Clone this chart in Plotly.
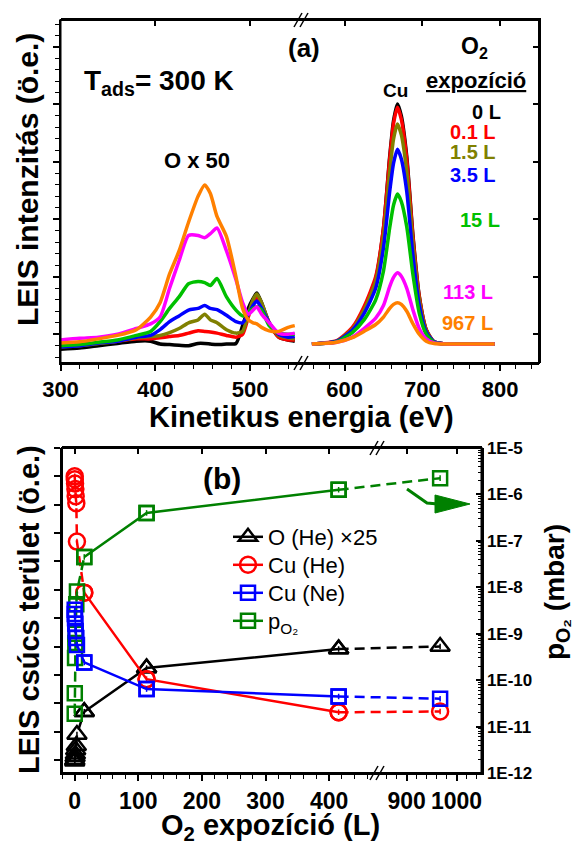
import plotly.graph_objects as go

# ---------------- (a) LEIS spectra ----------------
E_O = [300, 320, 340, 360, 380, 395, 405, 415, 425, 435, 445, 452, 458, 465, 475, 485, 492, 498, 503, 507, 512, 520, 530, 540, 547]
E_CU = [558, 590, 610, 625, 640, 650, 658, 663, 668, 673, 680, 688, 696, 705, 715, 730, 793]

LABELS_A = ["0 L", "0.1 L", "1.5 L", "3.5 L", "15 L", "113 L", "967 L"]
COLORS_A = ["#000000", "#ff0000", "#808000", "#0000ff", "#00c000", "#ff00ff", "#ff8000"]

O_0L = [-0.26, -0.24, -0.2, -0.16, -0.12, -0.12, -0.17, -0.18, -0.19, -0.2, -0.16, -0.16, -0.17, -0.18, -0.17, -0.16, 0.15, 0.45, 0.62, 0.72, 0.55, 0.2, -0.05, -0.1, -0.12]
O_0P1L = [-0.2, -0.18, -0.15, -0.12, -0.08, -0.08, -0.06, -0.04, -0.02, 0.02, 0.06, 0.05, 0.04, 0.02, -0.02, -0.05, 0.0, 0.3, 0.55, 0.65, 0.5, 0.2, -0.05, -0.1, -0.1]
O_1P5L = [-0.22, -0.2, -0.16, -0.12, -0.06, -0.04, -0.02, 0.03, 0.1, 0.2, 0.25, 0.35, 0.25, 0.2, 0.08, 0.02, 0.05, 0.35, 0.6, 0.7, 0.55, 0.2, -0.02, -0.06, -0.08]
O_3P5L = [-0.22, -0.2, -0.15, -0.12, -0.05, -0.02, 0.08, 0.22, 0.32, 0.42, 0.45, 0.5, 0.45, 0.43, 0.33, 0.22, 0.2, 0.35, 0.5, 0.58, 0.45, 0.2, 0.0, -0.05, -0.04]
O_15L = [-0.2, -0.18, -0.14, -0.1, -0.02, 0.05, 0.22, 0.45, 0.65, 0.88, 0.92, 0.9, 0.85, 0.97, 0.65, 0.42, 0.32, 0.38, 0.45, 0.48, 0.42, 0.15, 0.02, 0.0, 0.0]
O_113L = [-0.1, -0.07, -0.05, 0.0, 0.1, 0.18, 0.3, 0.8, 1.28, 1.72, 1.72, 1.68, 1.75, 1.85, 1.45, 0.95, 0.55, 0.35, 0.42, 0.48, 0.35, 0.2, 0.02, 0.0, 0.02]
O_967L = [-0.15, -0.13, -0.08, -0.02, 0.08, 0.3, 0.55, 1.05, 1.45, 1.95, 2.4, 2.6, 2.45, 2.05, 1.7, 1.0, 0.45, 0.25, 0.2, 0.18, 0.12, 0.06, 0.05, 0.12, 0.15]

CU_0L = [-0.17, -0.13, 0.08, 0.42, 0.96, 1.84, 3.09, 3.72, 4.01, 3.8, 3.09, 1.71, 0.67, 0.08, -0.13, -0.17, -0.17]
CU_0P1L = [-0.17, -0.11, 0.12, 0.48, 1.0, 1.85, 3.05, 3.67, 3.95, 3.74, 3.04, 1.68, 0.66, 0.08, -0.13, -0.17, -0.17]
CU_1P5L = [-0.17, -0.12, 0.09, 0.42, 0.92, 1.7, 2.82, 3.4, 3.66, 3.47, 2.82, 1.56, 0.6, 0.06, -0.13, -0.17, -0.17]
CU_3P5L = [-0.17, -0.12, 0.07, 0.36, 0.8, 1.5, 2.48, 2.98, 3.22, 3.05, 2.48, 1.36, 0.51, 0.04, -0.13, -0.17, -0.17]
CU_15L = [-0.17, -0.13, 0.03, 0.25, 0.6, 1.1, 1.85, 2.25, 2.44, 2.31, 1.87, 1.03, 0.37, 0.0, -0.14, -0.17, -0.17]
CU_113L = [-0.17, -0.14, -0.05, 0.1, 0.28, 0.5, 0.83, 0.99, 1.07, 1.01, 0.8, 0.42, 0.1, -0.08, -0.15, -0.17, -0.17]
CU_967L = [-0.17, -0.14, -0.06, 0.05, 0.17, 0.3, 0.45, 0.52, 0.55, 0.52, 0.4, 0.18, 0.0, -0.12, -0.16, -0.17, -0.17]

O_SERIES = [O_0L, O_0P1L, O_1P5L, O_3P5L, O_15L, O_113L, O_967L]
CU_SERIES = [CU_0L, CU_0P1L, CU_1P5L, CU_3P5L, CU_15L, CU_113L, CU_967L]

TICKS_A = [300, 400, 500, 600, 700, 800]

# ---------------- (b) peak areas vs exposure ----------------
EXPO = [0, 0.1, 0.5, 1, 1.5, 2.5, 3.5, 15, 113, 415, 967]
O_HE = [-0.05, 0.0, 0.1, 0.2, 0.35, 0.5, 0.9, 1.7, 3.24, 3.91, 4.0]
CU_HE = [10.0, 9.9, 9.75, 9.55, 9.3, 9.05, 7.7, 5.9, 2.85, 1.68, 1.71]
CU_NE = [5.3, 5.15, 5.0, 4.8, 4.55, 4.3, 4.05, 3.44, 2.5, 2.24, 2.16]
P_O2 = [1.9e-11, 5.2e-11, 3e-10, 6.3e-10, 1e-9, 4.3e-9, 8.1e-9, 4.5e-8, 4e-7, 1.26e-6, 2.24e-6]

TICKS_B = [0, 100, 200, 300, 400, 900, 1000]
P_TICKS = [1e-12, 1e-11, 1e-10, 1e-9, 1e-8, 1e-7, 1e-6, 1e-5]
P_TICKTEXT = ["1E-12", "1E-11", "1E-10", "1E-9", "1E-8", "1E-7", "1E-6", "1E-5"]

# ---------------- layout helpers ----------------
W, H = 581, 846
FONT = "Liberation Sans, Arial, sans-serif"


def pxx(x):
    return x / W


def pyy(y):
    return 1 - y / H


# broken axis (a): 300-550 | 550-850 (compressed)
GAP_A, R_A = 8.5, 0.82


def brk_a(e):
    return e if e <= 550 else 550 + GAP_A + (e - 550) * R_A


# broken axis (b): -20-475 | 840-1050 (compressed)
R_B = 0.784


def brk_b(x):
    return x if x <= 475 else 475 + (x - 840) * R_B


XR_A = [300, brk_a(850)]
XR_B = [-20, brk_b(1050)]
YR_A = [-0.5, 5.47]
YR_B = [-0.46, 11.0]

fig = go.Figure()

# spectra: O region on (x, y) [bottom/left axes]; Cu region on (x3, y3) [top/right frame axes, same scales]
for lab, col, oy, cy in zip(LABELS_A, COLORS_A, O_SERIES, CU_SERIES):
    fig.add_trace(go.Scatter(x=E_O, y=oy, mode="lines",
                             line=dict(color=col, width=3.5, shape="spline", smoothing=0.6),
                             xaxis="x", yaxis="y", showlegend=False, hoverinfo="skip"))
for lab, col, oy, cy in zip(LABELS_A, COLORS_A, O_SERIES, CU_SERIES):
    fig.add_trace(go.Scatter(x=[brk_a(e) for e in E_CU], y=cy, mode="lines",
                             line=dict(color=col, width=3.5, shape="spline", smoothing=0.6),
                             xaxis="x3", yaxis="y3", showlegend=False, hoverinfo="skip"))

# panel (b) series  (Cu(Ne) lives on the twin subplot x4/y5 that carries the top frame axis)
SERIES_B = [
    ("O (He) ×25", O_HE, "#000000", "triangle-up-open", 17, "x2", "y2", "legend"),
    ("Cu (He)", CU_HE, "#ff0000", "circle-open", 16, "x2", "y2", "legend2"),
    ("Cu (Ne)", CU_NE, "#0000ff", "square-open", 14, "x4", "y5", "legend3"),
    ("p<sub>O₂</sub>", P_O2, "#008000", "square-open", 14, "x2", "y4", "legend4"),
]
XB = [brk_b(v) for v in EXPO]
for name, vals, col, sym, size, xax, yax, lg in SERIES_B:
    xd = XB[0:8] + [None] + XB[9:11]
    yd = vals[0:8] + [None] + vals[9:11]
    fig.add_trace(go.Scatter(x=xd, y=yd, mode="lines", line=dict(color=col, width=2.5, dash="10px,6px"),
                             xaxis=xax, yaxis=yax, showlegend=False, hoverinfo="skip"))
    fig.add_trace(go.Scatter(x=XB, y=vals, mode="markers",
                             marker=dict(symbol=sym, size=size, color=col, line=dict(width=2.5, color=col)),
                             xaxis=xax, yaxis=yax, showlegend=False, hoverinfo="skip"))
    fig.add_trace(go.Scatter(x=XB, y=vals, mode="markers",
                             marker=dict(symbol="line-ns", size=4, color=col, line=dict(width=1.5, color=col)),
                             xaxis=xax, yaxis=yax, showlegend=False, hoverinfo="skip"))
    fig.add_trace(go.Scatter(x=XB[7:10], y=vals[7:10], mode="lines+markers", name=name,
                             line=dict(color=col, width=2.5),
                             marker=dict(symbol=sym, size=size, color=col, line=dict(width=2.5, color=col)),
                             xaxis=xax, yaxis=yax, showlegend=True, legend=lg, hoverinfo="skip"))

minor_a = [brk_a(v) for v in list(range(320, 550, 20)) + list(range(560, 850, 20)) if v % 100 != 0]
minor_b = [brk_b(v) for v in list(range(-20, 476, 20)) + list(range(860, 1050, 20)) if v % 100 != 0]

axis_common = dict(showline=True, linecolor="black", linewidth=2, showgrid=False, zeroline=False,
                   tickcolor="black", tickwidth=1.5)

tickfont_a = dict(family=FONT, size=22, color="black", weight="bold")
tickfont_b = dict(family=FONT, size=23, color="black", weight="bold")

DOM_XA = [pxx(60.5), pxx(539)]
DOM_YA = [pyy(363), pyy(20)]
DOM_XB = [pxx(62), pxx(481.5)]
DOM_YB = [pyy(773), pyy(448)]


def minor_x(vals):
    return dict(tickmode="array", tickvals=vals, ticks="outside", ticklen=3.5, tickcolor="black", tickwidth=1.2)


legend_common = dict(xanchor="left", yanchor="middle", bgcolor="rgba(0,0,0,0)",
                     font=dict(family=FONT, size=22, color="black"))

fig.update_layout(
    width=W, height=H, margin=dict(l=0, r=0, t=0, b=0, pad=0, autoexpand=False),
    paper_bgcolor="white", plot_bgcolor="rgba(0,0,0,0)",
    font=dict(family=FONT, color="black"),
    # panel (a): bottom / left
    xaxis=dict(domain=DOM_XA, anchor="y", range=XR_A, ticks="outside", ticklen=6,
               tickmode="array", tickvals=[brk_a(t) for t in TICKS_A], ticktext=[str(t) for t in TICKS_A],
               tickfont=tickfont_a, minor=minor_x(minor_a), **axis_common),
    yaxis=dict(domain=DOM_YA, anchor="x", range=YR_A, ticks="outside", ticklen=6,
               dtick=1, tick0=0, showticklabels=False,
               minor=dict(dtick=0.2, tick0=0, ticks="outside", ticklen=3.5, tickcolor="black", tickwidth=1.2),
               **axis_common),
    # panel (a): top / right (inward ticks)
    xaxis3=dict(domain=DOM_XA, anchor="y3", side="top", range=XR_A, ticks="inside", ticklen=6,
                tickmode="array", tickvals=[brk_a(t) for t in TICKS_A], showticklabels=False, **axis_common),
    yaxis3=dict(domain=DOM_YA, anchor="x3", side="right", range=YR_A, ticks="inside", ticklen=6,
                dtick=1, tick0=0, showticklabels=False, **axis_common),
    # panel (b): bottom / left
    xaxis2=dict(domain=DOM_XB, anchor="y2", range=XR_B, ticks="outside", ticklen=6,
                tickmode="array", tickvals=[brk_b(t) for t in TICKS_B], ticktext=[str(t) for t in TICKS_B],
                tickfont=tickfont_b, minor=minor_x(minor_b), **axis_common),
    yaxis2=dict(domain=DOM_YB, anchor="x2", range=YR_B, ticks="outside", ticklen=6,
                dtick=1, tick0=0, showticklabels=False, **axis_common),
    # panel (b): right log axis for p(O2)
    yaxis4=dict(overlaying="y2", anchor="x2", side="right", type="log", range=[-12, -5], ticks="inside",
                ticklen=6, tickmode="array", tickvals=P_TICKS, ticktext=P_TICKTEXT,
                tickfont=dict(family=FONT, size=17, color="black", weight="bold"),
                minor=dict(ticks="inside", ticklen=3.5, dtick="D1", tickcolor="black", tickwidth=1.0),
                **axis_common),
    # panel (b): top frame axis (twin subplot, same scales)
    xaxis4=dict(domain=DOM_XB, anchor="y5", side="top", range=XR_B, ticks="inside", ticklen=6,
                tickmode="array", tickvals=[brk_b(t) for t in TICKS_B], showticklabels=False, **axis_common),
    yaxis5=dict(domain=DOM_YB, anchor="x4", range=YR_B, visible=False),
    legend=dict(x=pxx(228), y=pyy(537), **legend_common),
    legend2=dict(x=pxx(228), y=pyy(565), **legend_common),
    legend3=dict(x=pxx(228), y=pyy(593), **legend_common),
    legend4=dict(x=pxx(228), y=pyy(621), **legend_common),
)

ann = []


def text(x, y, s, size, color="black", xanchor="center", angle=0, bold=True):
    ann.append(dict(x=pxx(x), y=pyy(y), xref="paper", yref="paper", text=s, showarrow=False,
                    xanchor=xanchor, yanchor="middle", textangle=angle,
                    font=dict(family=FONT, size=size, color=color, weight="bold" if bold else "normal")))


# panel (a) texts
text(304, 48, "(a)", 26)
text(82, 83, "T<sub>ads</sub>= 300 K", 28, xanchor="left")
text(197, 160, "O x 50", 22)
text(395, 90, "Cu", 19)
text(474, 47, "O<sub>2</sub>", 23)
text(476, 80, "<u>expozíció</u>", 22)
LAB_POS = [(503, 112), (498, 132), (498, 152), (498, 175), (502, 220), (495, 292), (495, 323)]
for lab, col, (lx, ly) in zip(LABELS_A, COLORS_A, LAB_POS):
    text(lx, ly, lab, 20, color=col, xanchor="right")
text(28, 180, "LEIS intenzitás (ö.e.)", 30, angle=-90)
text(301, 417, "Kinetikus energia (eV)", 29)

# panel (b) texts
text(222, 478, "(b)", 30)
text(29, 610, "LEIS csúcs terület (ö.e.)", 29, angle=-90)
text(556, 592, "p<sub>O₂</sub> (mbar)", 28, angle=-90)
text(270, 827, "O<sub>2</sub> expozíció (L)", 29)

fig.update_layout(annotations=ann)

shapes = []

# panel frames
for (x0, x1), (y0, y1) in ((DOM_XA, DOM_YA), (DOM_XB, DOM_YB)):
    shapes.append(dict(type="rect", xref="paper", yref="paper", x0=x0, x1=x1, y0=y0, y1=y1,
                       line=dict(color="black", width=2), fillcolor="rgba(0,0,0,0)", layer="above"))


def brkmark(x, y):
    for dx in (-3, 3):
        shapes.append(dict(type="line", xref="paper", yref="paper",
                           x0=pxx(x + dx - 4), y0=pyy(y + 7), x1=pxx(x + dx + 4), y1=pyy(y - 7),
                           line=dict(color="black", width=1.5)))


brkmark(301, 20)
brkmark(301, 363)
brkmark(377, 448)
brkmark(377, 773)

# green arrow pointing to the right axis
shapes.append(dict(type="path", xref="paper", yref="paper",
                   path=f"M {pxx(407)} {pyy(489)} L {pxx(427)} {pyy(503)} L {pxx(438)} {pyy(504)}",
                   line=dict(color="#008000", width=3)))
shapes.append(dict(type="path", xref="paper", yref="paper",
                   path=f"M {pxx(435)} {pyy(495)} L {pxx(470)} {pyy(504)} L {pxx(435)} {pyy(513)} Z",
                   fillcolor="#008000", line=dict(color="#008000", width=1)))
fig.update_layout(shapes=shapes)

fig.write_html("out.html", config={"displayModeBar": False},
               post_script="document.body.style.margin='0px';document.body.style.overflow='hidden';")
